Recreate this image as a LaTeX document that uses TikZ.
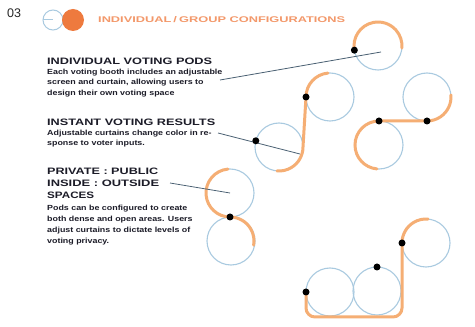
\documentclass[tikz,border=0pt]{standalone}
\usepackage{fontspec}
\setmainfont{Liberation Sans}
\usepackage{graphicx}
\definecolor{orangeL}{HTML}{F5AE74}
\definecolor{orangeD}{HTML}{EE7A3E}
\definecolor{orangeT}{HTML}{F3986A}
\definecolor{blueL}{HTML}{A9CAE0}
\definecolor{leaderC}{HTML}{4C6274}
\definecolor{inkC}{HTML}{1C1C28}
\newcommand{\wide}[1]{\scalebox{1.2}[1]{#1}}
\begin{document}
\begin{tikzpicture}[x=1pt,y=1pt,
  ring/.style={circle, draw=blueL, line width=1.1pt, minimum size=48pt, inner sep=0pt, outer sep=0pt},
  band/.style={draw=orangeL, line width=3pt, line cap=round},
  leader/.style={draw=leaderC, line width=0.8pt},
  dot/.style={circle, fill=black, minimum size=7pt, inner sep=0pt},
  head/.style={anchor=base west, inner sep=0pt, text=inkC, font=\bfseries},
  body/.style={anchor=base west, inner sep=0pt, text=inkC, font=\bfseries\fontsize{7.4}{9}\selectfont}]
\useasboundingbox (0,0) rectangle (475,327);
\fill[white] (0,0) rectangle (475,327);

% page number and header
\node[anchor=base west, inner sep=0pt, text=black!85, font=\fontsize{12.5}{14}\selectfont] (num) at (7,309) {03};
\node[circle, draw=blueL, line width=1pt, minimum size=20pt, inner sep=0pt, outer sep=0pt] (hb) at (53,307) {};
\draw[blueL, line width=1pt] (hb.west) -- (hb.center);
\node[circle, fill=orangeD, minimum size=22pt, inner sep=0pt] (ho) at (73,307) {};
\node[anchor=base west, inner sep=0pt, text=orangeT] (htitle) at (98,304.5)
  {\resizebox{247pt}{6pt}{\bfseries INDIVIDUAL\,/\,GROUP CONFIGURATIONS}};

% block 1
\node[head] (h1) at (47,262.7) {\resizebox{165pt}{6.5pt}{INDIVIDUAL VOTING PODS}};
\node[body] (b1a) at (47,252.8) {\wide{Each voting booth includes an adjustable}};
\node[body] (b1b) at (47,242.2) {\wide{screen and curtain, allowing users to}};
\node[body] (b1c) at (47,231.6) {\wide{design their own voting space}};

% block 2
\node[head] (h2) at (47,201.7) {\resizebox{168pt}{6.5pt}{INSTANT VOTING RESULTS}};
\node[body] (b2a) at (47,191.5) {\wide{Adjustable curtains change color in re-}};
\node[body] (b2b) at (47,181.5) {\wide{sponse to voter inputs.}};

% block 3
\node[head] (h3a) at (47,152) {\resizebox{111pt}{6.5pt}{PRIVATE : PUBLIC}};
\node[head] (h3b) at (47,140) {\resizebox{112pt}{6.5pt}{INSIDE : OUTSIDE}};
\node[head] (h3c) at (47,128) {\resizebox{47pt}{6.5pt}{SPACES}};
\node[body] (b3a) at (47,116.5) {\wide{Pods can be configured to create}};
\node[body] (b3b) at (47,105.5) {\wide{both dense and open areas. Users}};
\node[body] (b3c) at (47,94.5) {\wide{adjust curtains to dictate levels of}};
\node[body] (b3d) at (47,83.5) {\wide{voting privacy.}};

% rings
\node[ring] (c1) at (378,281) {};
\node[ring] (c2) at (330,230) {};
\node[ring] (c3) at (279,180) {};
\node[ring] (c4) at (427,230) {};
\node[ring] (c5) at (379,182) {};
\node[ring] (c6) at (230,134) {};
\node[ring] (c7) at (231,86) {};
\node[ring] (c8) at (330,35) {};
\node[ring] (c9) at (377,36) {};
\node[ring] (c10) at (426,84) {};

% orange bands
\draw[band] (c1.192) arc[start angle=192, end angle=-5, radius=24];
\draw[band] (c2.95) arc[start angle=95, end angle=180, radius=24] -- (c3.0) arc[start angle=0, end angle=-95, radius=24];
\draw[band] (c4.5) arc[start angle=5, end angle=-90, radius=24] -- (c5.90) arc[start angle=90, end angle=265, radius=24];
\draw[band] (c6.95) arc[start angle=95, end angle=270, radius=24] arc[start angle=90, end angle=-10, radius=24];
\draw[band, rounded corners=9pt] (c8.180) -- (306,10) -- (402,10) -- (c10.180);
\draw[band] (c10.180) arc[start angle=180, end angle=85, radius=24];

% leader lines
\coordinate (l1s) at (220,247);
\coordinate (l1e) at (381,275);
\coordinate (l2s) at (218,194);
\coordinate (l2e) at (300,173);
\coordinate (l3s) at (170,144);
\draw[leader] (l1s) -- (l1e);
\draw[leader] (l2s) -- (l2e);
\draw[leader] (l3s) -- (c6.center);

% dots
\node[dot] (d1) at (c1.190) {};
\node[dot] (d2) at (c2.180) {};
\node[dot] (d3) at (c3.165) {};
\node[dot] (d4) at (c4.270) {};
\node[dot] (d5) at (c5.90) {};
\node[dot] (d6) at (c6.270) {};
\node[dot] (d7) at (c8.180) {};
\node[dot] (d8) at (c9.90) {};
\node[dot] (d9) at (c10.180) {};
\end{tikzpicture}
\end{document}
